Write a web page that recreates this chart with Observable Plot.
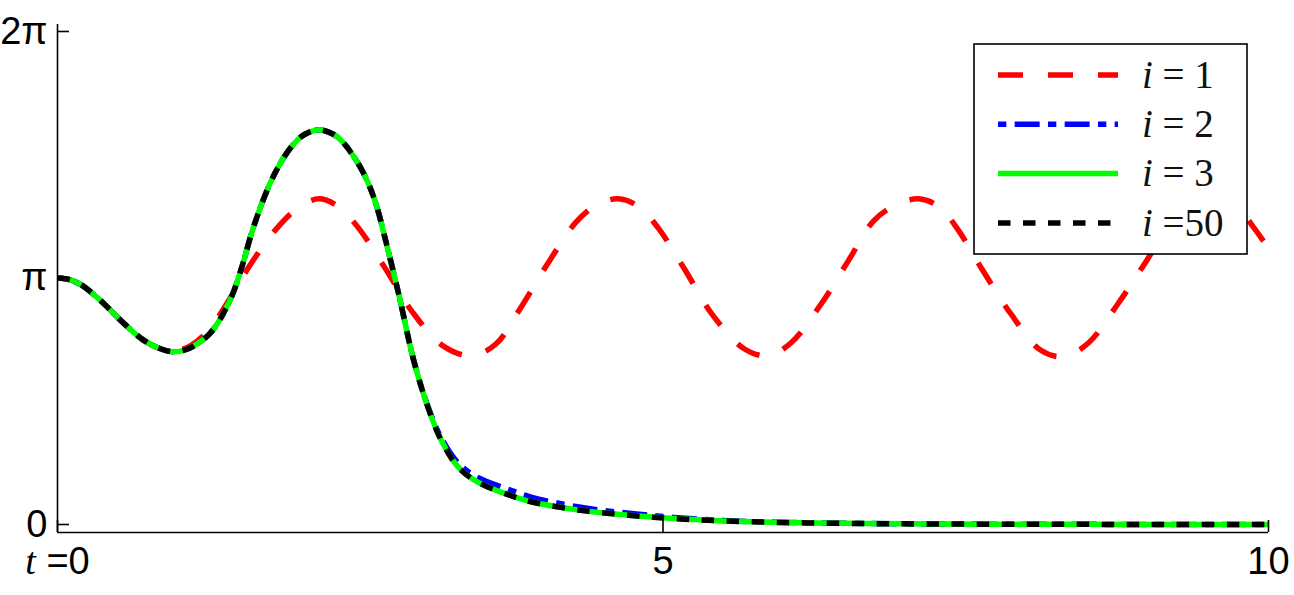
<!DOCTYPE html>
<html><head><meta charset="utf-8">
<script src="https://cdn.jsdelivr.net/npm/d3@7"></script>
<script src="https://cdn.jsdelivr.net/npm/@observablehq/plot@0.6"></script>
<style>body{margin:0;background:#fff} #chart{width:1294px;height:595px}</style>
</head><body><div id="chart"></div>
<script>
// i = 1 (red dashed)
const tRed = [0, 0.1, 0.2, 0.3, 0.38, 0.55, 0.71, 0.85, 0.96, 1.1, 1.25, 1.4, 1.6, 1.82, 2.0, 2.16, 2.32, 2.48, 2.70, 2.93, 3.19, 3.42, 3.62, 3.82, 4.05, 4.28, 4.45, 4.63, 4.80, 4.96, 5.18, 5.40, 5.67, 5.87, 6.06, 6.31, 6.53, 6.74, 6.92, 7.11, 7.28, 7.43, 7.64, 7.87, 8.12, 8.31, 8.51, 8.76, 8.98, 9.2, 9.38, 9.57, 9.75, 9.88, 10.0];
const thetaRed = [3.14, 3.12, 3.05, 2.93, 2.82, 2.56, 2.35, 2.24, 2.21, 2.28, 2.48, 2.82, 3.33, 3.79, 4.05, 4.15, 4.05, 3.79, 3.28, 2.71, 2.27, 2.15, 2.30, 2.75, 3.33, 3.85, 4.07, 4.15, 4.05, 3.78, 3.25, 2.69, 2.24, 2.15, 2.32, 2.82, 3.36, 3.87, 4.07, 4.15, 4.05, 3.77, 3.24, 2.69, 2.22, 2.14, 2.31, 2.82, 3.33, 3.85, 4.07, 4.15, 4.03, 3.78, 3.52];

// i = 2, 3, 50 share the same time samples
const tFit = [0, 0.1, 0.2, 0.3, 0.38, 0.55, 0.71, 0.85, 0.96, 1.08, 1.16, 1.25, 1.32, 1.38, 1.45, 1.53, 1.60, 1.68, 1.75, 1.81, 1.87, 1.94, 2.01, 2.08, 2.16, 2.24, 2.31, 2.38, 2.45, 2.52, 2.59, 2.65, 2.70, 2.82, 2.94, 3.06, 3.17, 3.31, 3.47, 3.72, 3.91, 4.32, 4.74, 5.09, 5.5, 6.0, 6.5, 7.0, 8.0, 9.0, 10.0];
const theta2 = [3.14, 3.12, 3.05, 2.93, 2.82, 2.56, 2.35, 2.24, 2.20, 2.24, 2.31, 2.42, 2.56, 2.72, 2.95, 3.32, 3.70, 4.06, 4.33, 4.52, 4.68, 4.83, 4.94, 5.00, 5.03, 5.00, 4.94, 4.83, 4.68, 4.50, 4.26, 3.98, 3.68, 2.92, 2.10, 1.50, 1.10, 0.78, 0.60, 0.45, 0.35, 0.22, 0.14, 0.09, 0.05, 0.027, 0.016, 0.009, 0.003, 0.001, 0];
const theta3 = [3.14, 3.12, 3.05, 2.93, 2.82, 2.56, 2.35, 2.24, 2.20, 2.24, 2.31, 2.42, 2.56, 2.72, 2.95, 3.32, 3.70, 4.06, 4.33, 4.52, 4.68, 4.83, 4.94, 5.00, 5.03, 5.00, 4.94, 4.83, 4.68, 4.50, 4.26, 3.98, 3.68, 2.92, 2.10, 1.49, 1.07, 0.73, 0.54, 0.38, 0.29, 0.18, 0.115, 0.076, 0.045, 0.025, 0.015, 0.008, 0.003, 0.001, 0];
const theta50 = [3.14, 3.12, 3.05, 2.93, 2.82, 2.56, 2.35, 2.24, 2.20, 2.24, 2.31, 2.42, 2.56, 2.72, 2.95, 3.32, 3.70, 4.06, 4.33, 4.52, 4.68, 4.83, 4.94, 5.00, 5.03, 5.00, 4.94, 4.83, 4.68, 4.50, 4.26, 3.98, 3.68, 2.92, 2.10, 1.49, 1.07, 0.73, 0.54, 0.38, 0.29, 0.18, 0.115, 0.076, 0.045, 0.025, 0.015, 0.008, 0.003, 0.001, 0];

const seriesNames = ["1", "2", "3", "50"];
const seriesLabels = [" = 1", " = 2", " = 3", " =50"];
const seriesColors = ["#ff0000", "#0000ff", "#00ff00", "#000000"];
const seriesDash = ["25,25", "8.33,8.33,25,8.33", null, "12.5,12.5"];

const yTicks = [0, Math.PI, 2 * Math.PI];
const yTickLabels = ["0", "π", "2π"];
const xTicks = [0, 5, 10];
const xTickLabels = ["t =0", "5", "10"];

const toRows = (ts, vs, s) => ts.map((t, i) => ({t, theta: vs[i], s}));
const seriesRows = [
  toRows(tRed, thetaRed, seriesNames[0]),
  toRows(tFit, theta2, seriesNames[1]),
  toRows(tFit, theta3, seriesNames[2]),
  toRows(tFit, theta50, seriesNames[3])
];

const yLo = -0.102, yHi = 2 * Math.PI + 0.089;
const lineW = 5.5;

const lineMarks = seriesRows.map((rows, k) => Plot.lineY(rows, {
  x: "t", y: "theta", stroke: seriesColors[k], strokeWidth: lineW,
  strokeDasharray: seriesDash[k] || undefined, strokeLinecap: "butt", strokeLinejoin: "round",
  curve: "catmull-rom"
}));

const plot = Plot.plot({
  width: 1294, height: 595,
  marginLeft: 57, marginRight: 26, marginTop: 24, marginBottom: 63,
  x: {domain: [0, 10], label: null},
  y: {domain: [yLo, yHi], label: null},
  style: {background: "#fff", color: "#000", fontFamily: "'Liberation Sans', Arial, sans-serif", fontSize: "38px"},
  marks: [
    ...lineMarks,
    Plot.ruleX([0], {stroke: "#000", strokeWidth: 1.6}),
    Plot.ruleY([yLo], {stroke: "#000", strokeWidth: 1.6}),
    Plot.axisY(yTicks, {tickSize: -12, fill: "none", strokeWidth: 1.6, label: null}),
    Plot.axisY(yTicks, {tickSize: 0, tickPadding: 10, tickFormat: (d, i) => yTickLabels[i], label: null}),
    Plot.axisX(xTicks, {tickSize: -12, fill: "none", strokeWidth: 1.6, label: null}),
    Plot.axisX(xTicks, {tickSize: 0, tickPadding: 15, tickFormat: (d, i) => xTickLabels[i], label: null})
  ]
});
document.getElementById("chart").appendChild(plot);

// style the "t =0" label: italic serif t
d3.select(plot).selectAll("text").each(function() {
  if (this.textContent === xTickLabels[0]) {
    const el = d3.select(this);
    el.text(null);
    el.append("tspan").attr("font-family", "'Liberation Serif', 'Times New Roman', serif").attr("font-style", "italic").text("t");
    el.append("tspan").text(" =0");
  }
});

// legend inside the plot area
const svg = d3.select(plot);
const lg = svg.append("g").attr("class", "legend");
lg.append("rect").attr("x", 974).attr("y", 44).attr("width", 273).attr("height", 210)
  .attr("fill", "#fff").attr("stroke", "#000").attr("stroke-width", 1.6);
seriesNames.forEach((name, k) => {
  const yy = 75 + k * 49.3;
  lg.append("line").attr("x1", 998).attr("x2", 1118).attr("y1", yy).attr("y2", yy)
    .attr("stroke", seriesColors[k]).attr("stroke-width", lineW)
    .attr("stroke-dasharray", seriesDash[k] || null);
  const tx = lg.append("text").attr("x", 1142).attr("y", yy).attr("dy", "0.33em")
    .attr("text-anchor", "start")
    .attr("font-family", "'Liberation Serif', 'Times New Roman', serif").attr("font-size", 39).attr("fill", "#111");
  tx.append("tspan").attr("font-style", "italic").text("i");
  tx.append("tspan").text(seriesLabels[k]);
});
</script>
</body></html>
